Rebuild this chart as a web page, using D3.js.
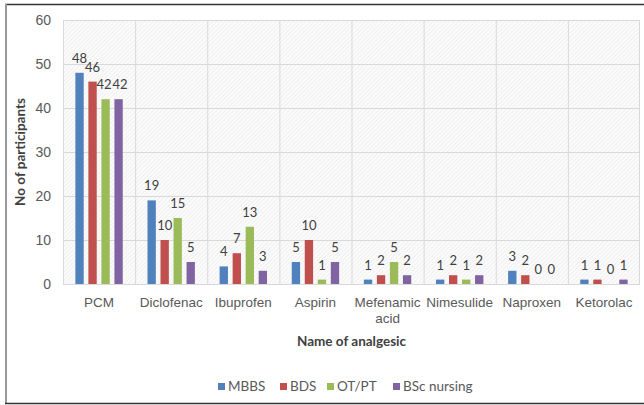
<!DOCTYPE html>
<html>
<head>
<meta charset="utf-8">
<script src="https://cdn.jsdelivr.net/npm/d3@7"></script>
<style>
  body { margin: 0; background: #fff; }
  svg { display: block; font-family: Lato, "Open Sans", sans-serif; }
</style>
</head>
<body>
<svg width="644" height="405"></svg>
<script>
const categories = ["PCM", "Diclofenac", "Ibuprofen", "Aspirin", "Mefenamic acid", "Nimesulide", "Naproxen", "Ketorolac"];
const seriesNames = ["MBBS", "BDS", "OT/PT", "BSc nursing"];
const mbbs = [48, 19, 4, 5, 1, 1, 3, 1];
const bds = [46, 10, 7, 10, 2, 2, 2, 1];
const otpt = [42, 15, 13, 1, 5, 1, 0, 0];
const bscNursing = [42, 5, 3, 5, 2, 2, 0, 1];
const yTicks = [0, 10, 20, 30, 40, 50, 60];
const colors = ["#4F81BD", "#C0504D", "#9BBB59", "#8064A2"];

const series = [mbbs, bds, otpt, bscNursing];
const svg = d3.select("svg");

// outer frame
svg.append("line").attr("x1", 5).attr("x2", 644).attr("y1", 4.5).attr("y2", 4.5)
  .style("stroke", "#333").style("stroke-width", 1.5);
svg.append("line").attr("x1", 6).attr("x2", 6).attr("y1", 4).attr("y2", 404)
  .style("stroke", "#999").style("stroke-width", 2);
svg.append("line").attr("x1", 5).attr("x2", 644).attr("y1", 403.5).attr("y2", 403.5)
  .style("stroke", "#333").style("stroke-width", 1.5);

const plotL = 63, plotR = 640, plotT = 20, plotB = 284;

// hatched plot background
const defs = svg.append("defs");
const pat = defs.append("pattern")
  .attr("id", "hatch")
  .attr("width", 3).attr("height", 3)
  .attr("patternUnits", "userSpaceOnUse")
  .attr("patternTransform", "rotate(45)");
pat.append("rect").attr("width", 3).attr("height", 3).style("fill", "#fbfbfb");
pat.append("line").attr("x1", 0).attr("x2", 0).attr("y1", 0).attr("y2", 3)
  .style("stroke", "#e6e6e6").style("stroke-width", 1);

svg.append("rect")
  .attr("x", plotL).attr("y", plotT)
  .attr("width", plotR - plotL).attr("height", plotB - plotT)
  .style("fill", "url(#hatch)");

const x = d3.scaleBand().domain(categories).range([plotL, plotR]).paddingInner(0).paddingOuter(0);
const y = d3.scaleLinear().domain([0, 60]).range([plotB, plotT]);
const xs = d3.scaleBand().domain(seriesNames).range([0, x.bandwidth()]).paddingInner(0.36).paddingOuter(0.95);

// gridlines
svg.append("g").selectAll("line").data(yTicks).join("line")
  .attr("x1", plotL).attr("x2", plotR)
  .attr("y1", d => y(d) + 0.5).attr("y2", d => y(d) + 0.5)
  .style("stroke", "#d9d9d9");
svg.append("g").selectAll("line").data(categories).join("line")
  .attr("x1", d => x(d) + 0.5).attr("x2", d => x(d) + 0.5)
  .attr("y1", plotT).attr("y2", plotB)
  .style("stroke", "#d9d9d9");
svg.append("line").attr("x1", plotR - 0.5).attr("x2", plotR - 0.5)
  .attr("y1", plotT).attr("y2", plotB).style("stroke", "#d9d9d9");

// y axis
const yAxis = svg.append("g")
  .attr("transform", `translate(${plotL - 12},0)`)
  .call(d3.axisLeft(y).tickValues(yTicks).tickSize(0).tickPadding(0));
yAxis.select(".domain").remove();
yAxis.selectAll("text").style("font-size", "14px").style("fill", "#595959").attr("dy", "0.35em");

// x axis
const xAxis = svg.append("g")
  .attr("transform", `translate(0,${plotB})`)
  .call(d3.axisBottom(x).tickSize(0).tickPadding(13));
xAxis.select(".domain").remove();
xAxis.selectAll("text").style("font-size", "13.5px").style("fill", "#595959")
  .each(function(d) {
    const t = d3.select(this);
    const words = d.split(" ");
    if (words.length > 1) {
      t.text(null);
      words.forEach((w, i) => {
        t.append("tspan").attr("x", 0).attr("dy", i === 0 ? "0.71em" : "1.2em").text(w);
      });
      t.attr("dy", null);
    }
  });

// bars
series.forEach((vals, si) => {
  const g = svg.append("g");
  g.selectAll("rect").data(vals).join("rect")
    .attr("x", (d, i) => x(categories[i]) + xs(seriesNames[si]))
    .attr("y", d => y(d))
    .attr("width", xs.bandwidth())
    .attr("height", d => plotB - y(d))
    .style("fill", colors[si]);
  // nudge two-digit labels apart when both neighbours are two digits
  g.selectAll("text").data(vals).join("text")
    .attr("x", (d, i) => {
      let nudge = 0;
      if (d >= 10 && si === 2 && series[3][i] >= 10) nudge = -1.5;
      if (d >= 10 && si === 3 && series[2][i] >= 10) nudge = 1.5;
      return x(categories[i]) + xs(seriesNames[si]) + xs.bandwidth() / 2 + nudge;
    })
    .attr("y", d => y(d) - 10)
    .attr("text-anchor", "middle")
    .style("font-size", "13px")
    .style("fill", "#404040")
    .text(d => d);
});

// axis titles
svg.append("text")
  .attr("transform", `translate(25,${(plotT + plotB) / 2}) rotate(-90)`)
  .attr("text-anchor", "middle")
  .style("font-size", "13.5px").style("font-weight", "bold").style("fill", "#404040")
  .text("No of participants");
svg.append("text")
  .attr("x", (plotL + plotR) / 2).attr("y", 346)
  .attr("text-anchor", "middle")
  .style("font-size", "13.5px").style("font-weight", "bold").style("fill", "#404040")
  .text("Name of analgesic");

// legend
const legendX = [218, 280, 327, 393];
const legend = svg.append("g").selectAll("g").data(seriesNames).join("g")
  .attr("transform", (d, i) => `translate(${legendX[i]},380)`);
legend.append("rect").attr("width", 7).attr("height", 7).attr("y", 3)
  .style("fill", (d, i) => colors[i]);
legend.append("text").attr("x", 10).attr("y", 11)
  .style("font-size", "13.5px").style("fill", "#595959")
  .text(d => d);
</script>
</body>
</html>
